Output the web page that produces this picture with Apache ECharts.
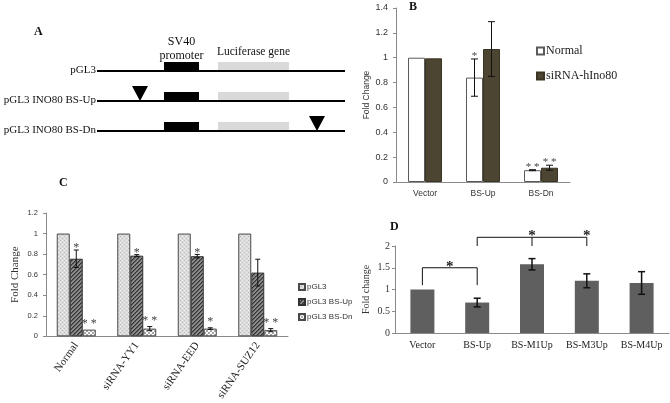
<!DOCTYPE html>
<html><head><meta charset="utf-8">
<script src="https://cdn.jsdelivr.net/npm/echarts@6/dist/echarts.min.js"></script>
<style>html,body{margin:0;padding:0;background:#fff}#c{width:670px;height:403px}</style>
</head><body><div id="c"></div>
<script>
// ---------- Panel A (construct diagram) ----------
const aConstructs = ['pGL3', 'pGL3 INO80 BS-Up', 'pGL3 INO80 BS-Dn'];
const aBackbone = [0, 248];
const aPromoter = [67, 102];
const aLuciferase = [121, 192];
const aSites = [null, 43, 220];
const aPromoterLabel = ['SV40', 'promoter'];
const aLuciferaseLabel = 'Luciferase gene';

// ---------- Panel B ----------
const bCategories = ['Vector', 'BS-Up', 'BS-Dn'];
const bSeriesNames = ['Normal', 'siRNA-hIno80'];
const bNormal = [1.0, 0.84, 0.095];
const bNormalErr = [0, 0.15, 0.004];
const bNormalSig = ['', '*', '* *'];
const bSi = [0.995, 1.07, 0.115];
const bSiErr = [0, 0.22, 0.02];
const bSiSig = ['', '', '* *'];
const bTicks = { min: 0, max: 1.4, interval: 0.2 };

// ---------- Panel C ----------
const cCategories = ['Normal', 'siRNA-YY1', 'siRNA-EED', 'siRNA-SUZ12'];
const cSeriesNames = ['pGL3', 'pGL3 BS-Up', 'pGL3 BS-Dn'];
const cPgl3 = [1, 1, 1, 1];
const cPgl3Err = [0, 0, 0, 0];
const cPgl3Sig = ['', '', '', ''];
const cUp = [0.755, 0.785, 0.78, 0.62];
const cUpErr = [0.085, 0.01, 0.017, 0.13];
const cUpSig = ['*', '*', '*', ''];
const cDn = [0.065, 0.075, 0.075, 0.06];
const cDnErr = [0, 0.02, 0.008, 0.015];
const cDnSig = ['* *', '* *', '*', '* *'];
const cTicks = { min: 0, max: 1.2, interval: 0.2 };

// ---------- Panel D ----------
const dCategories = ['Vector', 'BS-Up', 'BS-M1Up', 'BS-M3Up', 'BS-M4Up'];
const dValues = [1.0, 0.7, 1.58, 1.2, 1.15];
const dErr = [0, 0.1, 0.13, 0.16, 0.26];
const dBracketLevel = [1.5, 2.2];
const dBracketFoot = [1.1, 2.0];
const dBracketTicks = [[0, 1], [1, 2, 3]];
const dBracketStars = [[0.5], [2, 3]];
const dTicks = { min: 0, max: 2, interval: 0.5 };

const SERIF = 'Liberation Serif';
const SANS = 'Liberation Sans';
const AXIS = '#8a8a8a';

function pattern(size, draw) {
  const cv = document.createElement('canvas');
  cv.width = cv.height = size;
  draw(cv.getContext('2d'), size);
  return { image: cv, repeat: 'repeat' };
}
const patPgl3 = pattern(4, c => {
  c.fillStyle = '#dcdcdc'; c.fillRect(0, 0, 4, 4);
  c.fillStyle = '#bdbdbd'; c.fillRect(0, 0, 1, 1); c.fillRect(2, 2, 1, 1);
  c.fillStyle = '#efefef'; c.fillRect(2, 0, 1, 1); c.fillRect(0, 2, 1, 1);
});
const patUp = pattern(4, c => {
  c.fillStyle = '#8c8c8c'; c.fillRect(0, 0, 4, 4);
  c.fillStyle = '#333'; for (let i = 0; i < 4; i++) c.fillRect(i, 3 - i, 1, 1);
  c.fillStyle = '#5a5a5a'; for (let i = 0; i < 4; i++) c.fillRect((i + 1) % 4, 3 - i, 1, 1);
});
const patDn = pattern(4, c => {
  c.fillStyle = '#ffffff'; c.fillRect(0, 0, 4, 4);
  c.fillStyle = '#a6a6a6'; c.fillRect(0, 0, 2, 2); c.fillRect(2, 2, 2, 2);
});

function errorSeries(name, axisIdx, values, errs, sigs, offset, cap, lw, sigFont, sigGap) {
  return {
    type: 'custom', name, xAxisIndex: axisIdx, yAxisIndex: axisIdx, z: 5, silent: true,
    data: values.map((v, i) => [i, v, errs[i]]),
    encode: { x: 0, y: 1 },
    renderItem: (params, api) => {
      const i = api.value(0), v = api.value(1), e = api.value(2);
      const x = api.coord([i, v])[0] + offset;
      const yT = api.coord([i, v + e])[1];
      const yB = api.coord([i, v - e])[1];
      const ch = [];
      if (e > 0) {
        const st = { stroke: '#111', lineWidth: lw };
        ch.push({ type: 'line', shape: { x1: x, y1: yT, x2: x, y2: yB }, style: st });
        ch.push({ type: 'line', shape: { x1: x - cap, y1: yT, x2: x + cap, y2: yT }, style: st });
        ch.push({ type: 'line', shape: { x1: x - cap, y1: yB, x2: x + cap, y2: yB }, style: st });
      }
      const s = sigs[params.dataIndex];
      if (s) ch.push({ type: 'text', x: x, y: yT - sigGap, style: { text: s, align: 'center', verticalAlign: 'middle', font: sigFont, fill: '#444' } });
      return { type: 'group', children: ch };
    }
  };
}

function valueAxis(idx, ticks, name, labelFont, labelSize, nameFont, nameSize, nameGap, margin) {
  return {
    gridIndex: idx, type: 'value', min: ticks.min, max: ticks.max, interval: ticks.interval,
    name, nameLocation: 'middle', nameGap,
    nameTextStyle: { fontFamily: nameFont, fontSize: nameSize, color: '#333' },
    axisLine: { show: true, lineStyle: { color: AXIS } },
    axisTick: { show: true, length: 3, lineStyle: { color: AXIS } },
    splitLine: { show: false },
    axisLabel: { fontFamily: labelFont, fontSize: labelSize, color: '#333', margin }
  };
}

const option = {
  backgroundColor: '#fff',
  animation: false,
  title: [
    { text: 'A', left: 34, top: 26, padding: 0, textStyle: { fontFamily: SERIF, fontWeight: 'bold', fontSize: 12, color: '#111' } },
    { text: 'B', left: 409, top: 1, padding: 0, textStyle: { fontFamily: SERIF, fontWeight: 'bold', fontSize: 12, color: '#111' } },
    { text: 'C', left: 59, top: 177, padding: 0, textStyle: { fontFamily: SERIF, fontWeight: 'bold', fontSize: 12, color: '#111' } },
    { text: 'D', left: 390, top: 221, padding: 0, textStyle: { fontFamily: SERIF, fontWeight: 'bold', fontSize: 12, color: '#111' } }
  ],
  legend: [
    { data: bSeriesNames, left: 536, top: 45, orient: 'vertical', itemWidth: 7, itemHeight: 7, itemGap: 13, icon: 'rect', padding: 0,
      textStyle: { fontFamily: SERIF, fontSize: 12, color: '#222', padding: [0, 0, 0, -3] } },
    { data: cSeriesNames, left: 298, top: 283, orient: 'vertical', itemWidth: 6, itemHeight: 6, itemGap: 7, icon: 'rect', padding: 0,
      textStyle: { fontFamily: SANS, fontSize: 8, color: '#333', padding: [0, 0, 0, -3] } }
  ],
  grid: [
    { left: 97, top: 56, width: 248, height: 90 },
    { left: 396, top: 8, width: 174, height: 174 },
    { left: 46, top: 213, width: 242, height: 127 },
    { left: 395, top: 246, width: 274, height: 87 }
  ],
  xAxis: [
    { gridIndex: 0, type: 'value', min: aBackbone[0], max: aBackbone[1], show: false },
    { gridIndex: 1, type: 'category', data: bCategories,
      axisLine: { lineStyle: { color: AXIS } }, axisTick: { length: 4, lineStyle: { color: AXIS } },
      axisLabel: { fontFamily: SANS, fontSize: 8.5, color: '#333', margin: 7 } },
    { gridIndex: 2, type: 'category', data: cCategories,
      axisLine: { lineStyle: { color: AXIS } }, axisTick: { length: 4, lineStyle: { color: AXIS } },
      axisLabel: { fontFamily: SERIF, fontSize: 11, color: '#222', rotate: 55, margin: 7 } },
    { gridIndex: 3, type: 'category', data: dCategories,
      axisLine: { lineStyle: { color: AXIS } }, axisTick: { length: 4, lineStyle: { color: AXIS } },
      axisLabel: { fontFamily: SERIF, fontSize: 10, color: '#222', margin: 7 } }
  ],
  yAxis: [
    { gridIndex: 0, type: 'category', data: aConstructs, inverse: true, show: false },
    valueAxis(1, bTicks, 'Fold Change', SANS, 9, SANS, 8.5, 24, 8),
    valueAxis(2, cTicks, 'Fold Change', SANS, 7.5, SERIF, 11, 25, 8),
    valueAxis(3, dTicks, 'Fold change', SERIF, 10, SERIF, 10, 24, 5)
  ],
  series: [
    // Panel A diagram
    {
      type: 'custom', name: 'constructs', xAxisIndex: 0, yAxisIndex: 0, silent: true,
      data: aConstructs.map((n, i) => [aBackbone[0], i]),
      encode: { x: 0, y: 1 },
      renderItem: (params, api) => {
        const i = params.dataIndex;
        const p0 = api.coord([aBackbone[0], i]);
        const p1 = api.coord([aBackbone[1], i]);
        const y = p0[1];
        const pr0 = api.coord([aPromoter[0], i])[0], pr1 = api.coord([aPromoter[1], i])[0];
        const lu0 = api.coord([aLuciferase[0], i])[0], lu1 = api.coord([aLuciferase[1], i])[0];
        const ch = [
          { type: 'rect', shape: { x: lu0, y: y - 9, width: lu1 - lu0, height: 8 }, style: { fill: '#d9d9d9' } },
          { type: 'rect', shape: { x: pr0, y: y - 9, width: pr1 - pr0, height: 9 }, style: { fill: '#000' } },
          { type: 'line', shape: { x1: p0[0], y1: y, x2: p1[0], y2: y }, style: { stroke: '#000', lineWidth: 2 } },
          { type: 'text', x: p0[0] - 1, y: y - 1, style: { text: aConstructs[i], align: 'right', verticalAlign: 'middle', font: '11px "' + SERIF + '"', fill: '#111' } }
        ];
        if (aSites[i] != null) {
          const sx = api.coord([aSites[i], i])[0];
          ch.push({ type: 'polygon', shape: { points: [[sx - 8, y - 15], [sx + 8, y - 15], [sx, y]] }, style: { fill: '#000' } });
        }
        if (i === 0) {
          const cx = (pr0 + pr1) / 2;
          ch.push({ type: 'text', x: cx, y: y - 29, style: { text: aPromoterLabel[0], align: 'center', verticalAlign: 'middle', font: '12px "' + SERIF + '"', fill: '#111' } });
          ch.push({ type: 'text', x: cx, y: y - 15, style: { text: aPromoterLabel[1], align: 'center', verticalAlign: 'middle', font: '12px "' + SERIF + '"', fill: '#111' } });
          ch.push({ type: 'text', x: (lu0 + lu1) / 2, y: y - 19, style: { text: aLuciferaseLabel, align: 'center', verticalAlign: 'middle', font: '11.5px "' + SERIF + '"', fill: '#111' } });
        }
        return { type: 'group', children: ch };
      }
    },
    // Panel B
    { type: 'bar', name: bSeriesNames[0], xAxisIndex: 1, yAxisIndex: 1, data: bNormal, barWidth: 17, barGap: '0%',
      itemStyle: { color: '#ffffff', borderColor: '#5a5a5a', borderWidth: 1 } },
    { type: 'bar', name: bSeriesNames[1], xAxisIndex: 1, yAxisIndex: 1, data: bSi, barWidth: 17, barGap: '0%',
      itemStyle: { color: '#4b4531', borderColor: '#3a3424', borderWidth: 1 } },
    errorSeries('errB0', 1, bNormal, bNormalErr, bNormalSig, -8.5, 3.5, 1, '11px "' + SERIF + '"', 3),
    errorSeries('errB1', 1, bSi, bSiErr, bSiSig, 8.5, 3.5, 1, '11px "' + SERIF + '"', 3),
    // Panel C
    { type: 'bar', name: cSeriesNames[0], xAxisIndex: 2, yAxisIndex: 2, data: cPgl3, barWidth: 13, barGap: '0%',
      itemStyle: { color: patPgl3, borderColor: '#4a4a4a', borderWidth: 1 } },
    { type: 'bar', name: cSeriesNames[1], xAxisIndex: 2, yAxisIndex: 2, data: cUp, barWidth: 13, barGap: '0%',
      itemStyle: { color: patUp, borderColor: '#333', borderWidth: 1 } },
    { type: 'bar', name: cSeriesNames[2], xAxisIndex: 2, yAxisIndex: 2, data: cDn, barWidth: 13, barGap: '0%',
      itemStyle: { color: patDn, borderColor: '#4a4a4a', borderWidth: 1 } },
    errorSeries('errC0', 2, cPgl3, cPgl3Err, cPgl3Sig, -13, 2.5, 1, '12px "' + SERIF + '"', 2),
    errorSeries('errC1', 2, cUp, cUpErr, cUpSig, 0, 2.5, 1, '12px "' + SERIF + '"', 2),
    errorSeries('errC2', 2, cDn, cDnErr, cDnSig, 13, 2.5, 1, '12px "' + SERIF + '"', 6),
    // Panel D
    { type: 'bar', name: 'Fold change', xAxisIndex: 3, yAxisIndex: 3, data: dValues, barWidth: 24,
      itemStyle: { color: '#5f5f5f' } },
    errorSeries('errD', 3, dValues, dErr, ['', '', '', '', ''], 0, 3.5, 1.5, '12px "' + SERIF + '"', 2),
    {
      type: 'custom', name: 'brackets', xAxisIndex: 3, yAxisIndex: 3, z: 6, silent: true,
      data: dBracketLevel.map((h, k) => [dBracketTicks[k][0], h]),
      encode: { x: 0, y: 1 },
      renderItem: (params, api) => {
        const k = params.dataIndex;
        const yTop = api.coord([0, dBracketLevel[k]])[1];
        const yFoot = api.coord([0, dBracketFoot[k]])[1];
        const xs = dBracketTicks[k].map(t => api.coord([t, 0])[0]);
        const st = { stroke: '#111', lineWidth: 1 };
        const ch = [{ type: 'line', shape: { x1: xs[0], y1: yTop, x2: xs[xs.length - 1], y2: yTop }, style: st }];
        xs.forEach(x => ch.push({ type: 'line', shape: { x1: x, y1: yTop, x2: x, y2: yFoot }, style: st }));
        dBracketStars[k].forEach(s => {
          const lo = Math.floor(s), hi = Math.ceil(s);
          const xl = api.coord([lo, 0])[0], xh = api.coord([hi, 0])[0];
          const x = xl + (xh - xl) * (s - lo);
          ch.push({ type: 'text', x, y: yTop - 1, style: { text: '*', align: 'center', verticalAlign: 'middle', font: 'bold 15px "' + SERIF + '"', fill: '#222' } });
        });
        return { type: 'group', children: ch };
      }
    }
  ]
};
const chart = echarts.init(document.getElementById('c'));
chart.setOption(option);
</script>
</body></html>
